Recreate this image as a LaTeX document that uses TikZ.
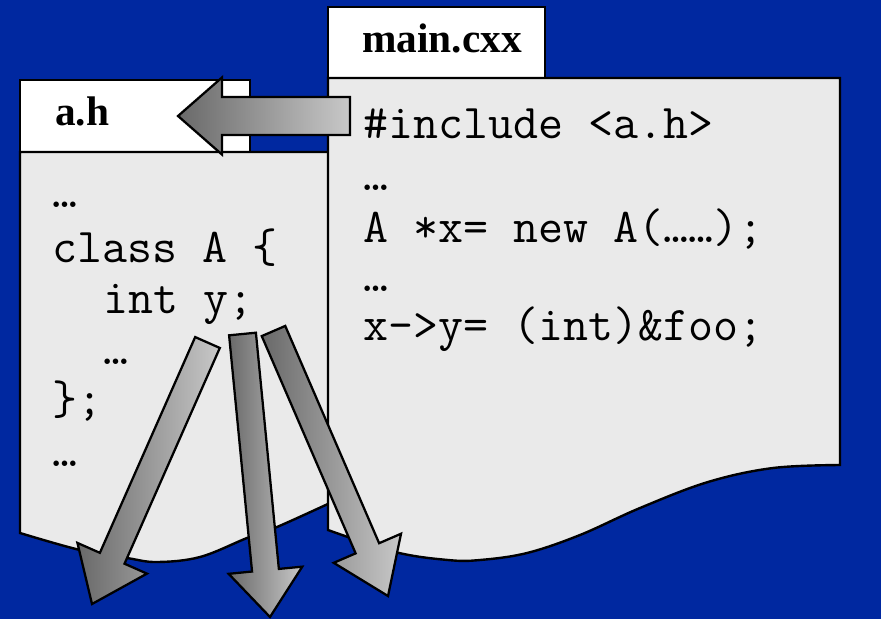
\documentclass[tikz,border=0pt]{standalone}
\usepackage{fontspec}
\setmainfont{Liberation Serif}
\usetikzlibrary{calc}
\definecolor{bgblue}{RGB}{0,40,160}
\definecolor{pagegray}{RGB}{234,234,234}
\definecolor{arrdark}{RGB}{105,105,105}
\definecolor{arrlight}{RGB}{200,200,200}
\tikzset{
  tabbox/.style={draw=black, fill=white, line width=1.8pt},
  pagebox/.style={draw=black, fill=pagegray, line width=1.8pt, line join=miter},
  tablabel/.style={anchor=base west, inner sep=0pt, font=\fontsize{31}{31}\selectfont\bfseries},
  codeline/.style={anchor=base west, inner sep=0pt, font=\fontsize{36.4}{36.4}\selectfont\ttfamily},
  blockarrow/.style={draw=black, line width=1.7pt, left color=arrdark, right color=arrlight, line join=miter},
}
\newcommand\blkarrow[5]{%
  \coordinate (ba-b) at ($(#2)!#5!(#1)$);
  \path[blockarrow] ($(#1)!#3!90:(#2)$) -- ($(ba-b)!#3!90:(#2)$) -- ($(ba-b)!#4!90:(#2)$)
    -- (#2) -- ($(ba-b)!#4!-90:(#2)$) -- ($(ba-b)!#3!-90:(#2)$) -- ($(#1)!#3!-90:(#2)$) -- cycle;}
\begin{document}
\begin{tikzpicture}[x=0.75pt,y=-0.75pt]
  \fill[bgblue] (0,0) rectangle (881,619);
  \useasboundingbox (0,0) rectangle (881,619);
  % a.h file
  \path[tabbox] (20,80) rectangle (250,152);
  \path[pagebox] (20,152) -- (330,152) -- (330,503)
    -- plot[smooth,tension=0.6] coordinates {(330,503) (277,527) (247,538) (200,557) (157,562) (127,558) (80,550) (20,533)} -- cycle;
  \node[tablabel] (ahlabel) at (55,125) {a.h};
  \node[codeline] (a1) at (52,207) {…};
  \node[codeline] (a2) at (52,262) {class A \{};
  \node[codeline] (a3) at (103,313) {int y;};
  \node[codeline] (a4) at (103,364) {…};
  \node[codeline] (a5) at (52,414) {\};};
  \node[codeline] (a6) at (52,466) {…};
  % main.cxx file
  \path[tabbox] (328,7) rectangle (545,78);
  \path[pagebox] (328,78) -- (840,78) -- (840,465)
    -- plot[smooth,tension=0.6] coordinates {(840,465) (773,468) (708,482) (640,508) (580,535) (527,553) (480,560) (448,560) (395,552) (328,530)} -- cycle;
  \node[tablabel] (mainlabel) at (362,52) {main.cxx};
  \node[codeline] (m1) at (363,138) {\#include <a.h>};
  \node[codeline] (m2) at (363,190) {…};
  \node[codeline] (m3) at (363,242) {A *x= new A(……);};
  \node[codeline] (m4) at (363,291) {…};
  \node[codeline] (m5) at (363,340) {x->y= (int)\&foo;};
  % include arrow
  \coordinate (inctail) at (350,116);
  \coordinate (inctip) at (178,116);
  \blkarrow{inctail}{inctip}{14.25pt}{28.9pt}{33pt}
  % three arrows from y
  \coordinate (t1) at (207.5,342.5); \coordinate (p1) at (92,604);
  \coordinate (t2) at (242.5,334);   \coordinate (p2) at (270,617);
  \coordinate (t3) at (273.5,331);   \coordinate (p3) at (388,596);
  \blkarrow{t1}{p1}{10.1pt}{28.5pt}{37.5pt}
  \blkarrow{t2}{p2}{10.1pt}{27.75pt}{35.25pt}
  \blkarrow{t3}{p3}{9.6pt}{27.5pt}{39pt}
\end{tikzpicture}
\end{document}
